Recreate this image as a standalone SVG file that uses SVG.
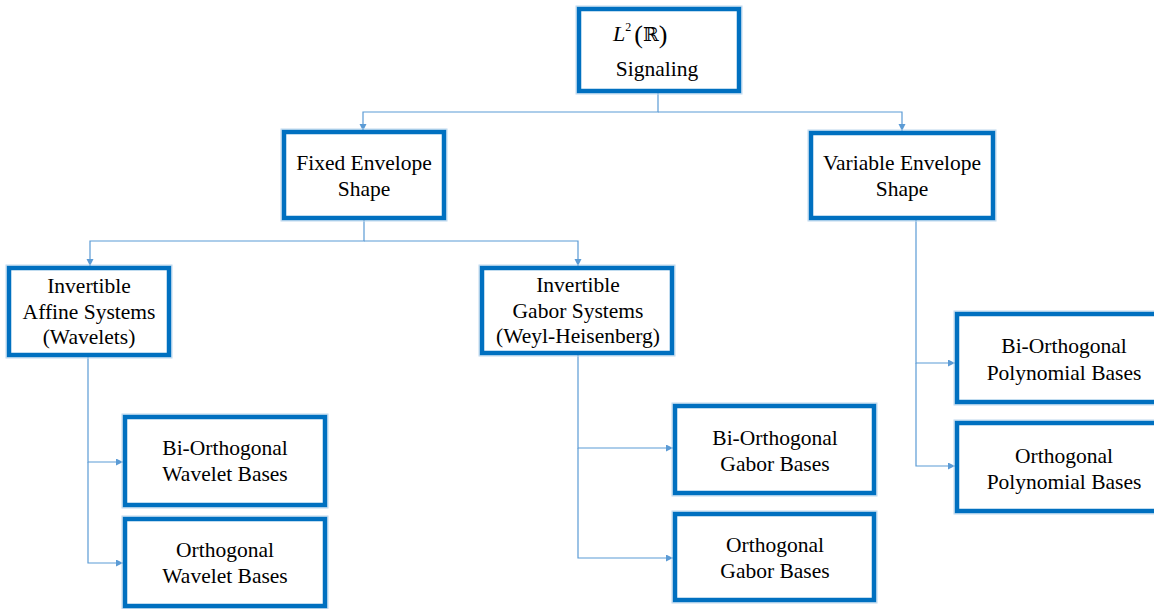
<svg xmlns="http://www.w3.org/2000/svg" width="1154" height="609" viewBox="0 0 1154 609">
<defs>
<marker id="arr" markerUnits="userSpaceOnUse" markerWidth="8" markerHeight="8" refX="7" refY="3.5" orient="auto">
<path d="M0,0 L7,3.5 L0,7 z" fill="#5B9BD5"/>
</marker>
<style>
.box{fill:#fff;stroke:#0070C0;stroke-width:4.5}
.halo{fill:none;stroke:#BDD7EE;stroke-width:1}
.t{font-size:21.5px;fill:#000;text-anchor:middle}
.c{fill:none;stroke:#5B9BD5;stroke-width:1.2}
</style>
</defs>
<rect width="1154" height="609" fill="#fff"/>
<g id="connectors">
<path class="c" d="M658,93 V112 H363 V131" marker-end="url(#arr)"/>
<path class="c" d="M658,112 H902 V131" marker-end="url(#arr)"/>
<path class="c" d="M364,220 V241 H90 V266" marker-end="url(#arr)"/>
<path class="c" d="M364,241 H578 V266" marker-end="url(#arr)"/>
<path class="c" d="M88,357 V462 H123" marker-end="url(#arr)"/>
<path class="c" d="M88,462 V563 H123" marker-end="url(#arr)"/>
<path class="c" d="M578,355 V448 H673" marker-end="url(#arr)"/>
<path class="c" d="M578,448 V558 H673" marker-end="url(#arr)"/>
<path class="c" d="M916,220 V363 H955" marker-end="url(#arr)"/>
<path class="c" d="M916,363 V466 H955" marker-end="url(#arr)"/>
</g>
<g font-family="Liberation Serif, Times New Roman, serif">
<g id="root">
<rect class="halo" x="576" y="6" width="166" height="88"/>
<rect class="box" x="579" y="9" width="160" height="82"/>
<text x="613" y="41" font-size="22"><tspan font-style="italic">L</tspan><tspan font-size="12" dy="-10">2</tspan><tspan font-size="26" dy="12" dx="3">(</tspan><tspan font-family="DejaVu Serif, serif" font-size="19" dy="-2">ℝ</tspan><tspan font-size="26" dy="2">)</tspan></text>
<text class="t" x="657" y="76">Signaling</text>
</g>
<g id="fixed">
<rect class="halo" x="281" y="129" width="166" height="92"/>
<rect class="box" x="284" y="132" width="160" height="86"/>
<text class="t" x="364" y="170">Fixed Envelope</text>
<text class="t" x="364" y="196">Shape</text>
</g>
<g id="variable">
<rect class="halo" x="808" y="130" width="188" height="91"/>
<rect class="box" x="811" y="133" width="182" height="85"/>
<text class="t" x="902" y="170">Variable Envelope</text>
<text class="t" x="902" y="196">Shape</text>
</g>
<g id="affine">
<rect class="halo" x="6" y="265" width="166" height="93"/>
<rect class="box" x="9" y="268" width="160" height="87"/>
<text class="t" x="89" y="293">Invertible</text>
<text class="t" x="89" y="319">Affine Systems</text>
<text class="t" x="89" y="344">(Wavelets)</text>
</g>
<g id="gabor">
<rect class="halo" x="479" y="265" width="196" height="91"/>
<rect class="box" x="482" y="268" width="190" height="85"/>
<text class="t" x="578" y="292">Invertible</text>
<text class="t" x="578" y="318">Gabor Systems</text>
<text class="t" x="578" y="343">(Weyl-Heisenberg)</text>
</g>
<g id="biorth-wavelet">
<rect class="halo" x="122" y="414" width="206" height="94"/>
<rect class="box" x="125" y="417" width="200" height="88"/>
<text class="t" x="225" y="455">Bi-Orthogonal</text>
<text class="t" x="225" y="481">Wavelet Bases</text>
</g>
<g id="orth-wavelet">
<rect class="halo" x="122" y="516" width="206" height="93"/>
<rect class="box" x="125" y="519" width="200" height="87"/>
<text class="t" x="225" y="557">Orthogonal</text>
<text class="t" x="225" y="583">Wavelet Bases</text>
</g>
<g id="biorth-gabor">
<rect class="halo" x="672" y="403" width="205" height="93"/>
<rect class="box" x="675" y="406" width="199" height="87"/>
<text class="t" x="775" y="445">Bi-Orthogonal</text>
<text class="t" x="775" y="471">Gabor Bases</text>
</g>
<g id="orth-gabor">
<rect class="halo" x="672" y="511" width="205" height="92"/>
<rect class="box" x="675" y="514" width="199" height="86"/>
<text class="t" x="775" y="552">Orthogonal</text>
<text class="t" x="775" y="578">Gabor Bases</text>
</g>
<g id="biorth-poly">
<rect class="halo" x="954" y="311" width="220" height="94"/>
<rect class="box" x="957" y="314" width="214" height="88"/>
<text class="t" x="1064" y="353">Bi-Orthogonal</text>
<text class="t" x="1064" y="380">Polynomial Bases</text>
</g>
<g id="orth-poly">
<rect class="halo" x="954" y="420" width="220" height="94"/>
<rect class="box" x="957" y="423" width="214" height="88"/>
<text class="t" x="1064" y="463">Orthogonal</text>
<text class="t" x="1064" y="489">Polynomial Bases</text>
</g>
</g>
</svg>
